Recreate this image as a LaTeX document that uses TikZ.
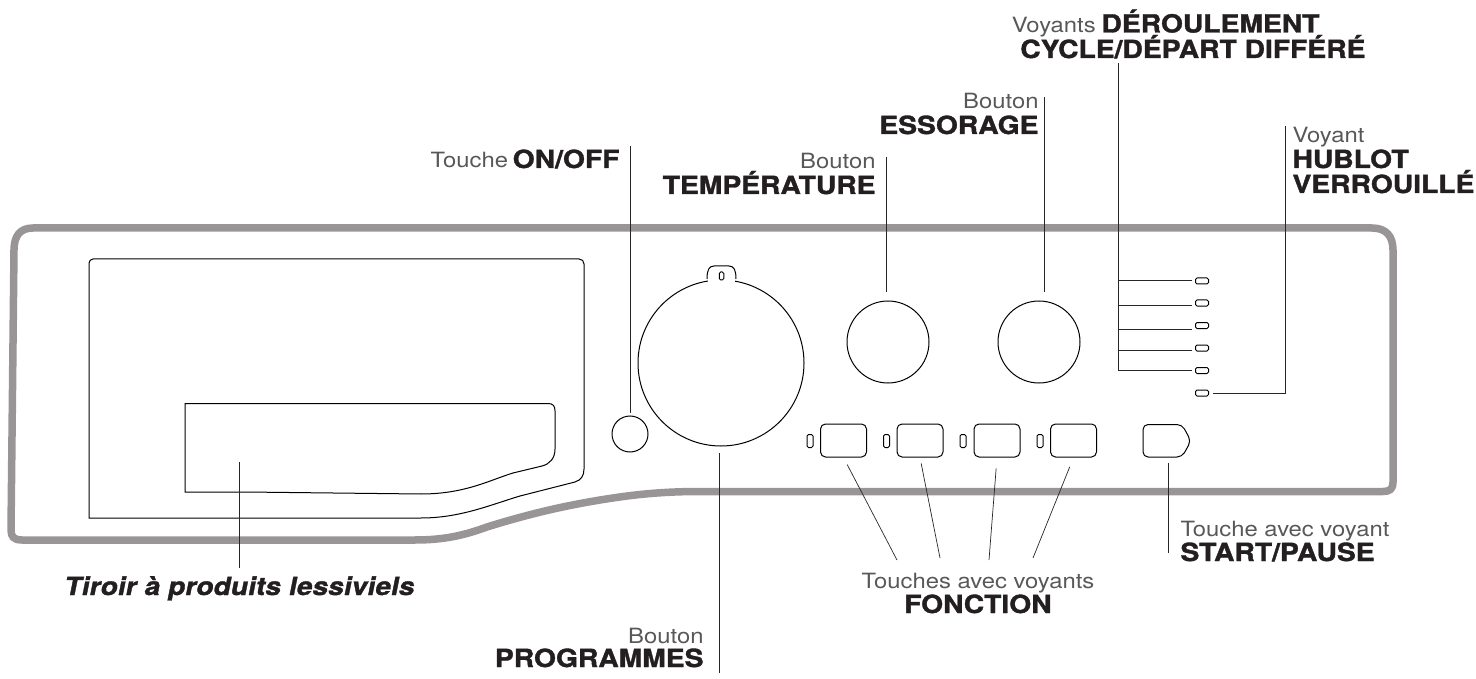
\documentclass[tikz,border=0pt]{standalone}
\usepackage{fontspec}
\setmainfont{TeX Gyre Heros}
\newfontfamily\thinfont[FakeStretch=1.135]{TeX Gyre Heros}
\newfontfamily\heavyfont[FakeBold=1.4,FakeStretch=1.13]{TeX Gyre Heros Bold}
\newfontfamily\heavyitfont[FakeBold=1.4,FakeSlant=0.2,FakeStretch=1.13]{TeX Gyre Heros Bold}
\definecolor{panelgray}{HTML}{999596}
\definecolor{inktext}{HTML}{231F20}
\definecolor{lighttext}{HTML}{5A5758}
\newcommand{\thick}[1]{{\heavyfont\fontsize{25}{25}\selectfont\color{inktext}#1}}
\newcommand{\thin}[1]{{\thinfont\fontsize{21}{21}\selectfont\color{lighttext}#1}}
\begin{document}
\begin{tikzpicture}[x=1pt,y=-1pt,
  line width=1pt,
  knob node/.style={circle,draw,inner sep=0pt},
  key node/.style={rectangle,draw,rounded corners=5pt,inner sep=0pt,minimum width=46pt,minimum height=33pt},
  lamp node/.style={rectangle,draw,rounded corners=1.5pt,inner sep=0pt,minimum width=6pt,minimum height=13pt},
  strip node/.style={rectangle,draw,rounded corners=1.5pt,inner sep=0pt,minimum width=13pt,minimum height=6pt},
  txt node/.style={inner sep=0pt,anchor=base west},
  txtr node/.style={inner sep=0pt,anchor=base east},
  txtc node/.style={inner sep=0pt,anchor=base},
  leader/.style={line width=0.7pt,draw=black!85}]

  \useasboundingbox (0,0) rectangle (1476,679);

  % panel outline
  \draw[panelgray,line width=7.5pt,line join=round]
    (33,228) -- (1372,228) .. controls (1386,228) and (1393,236) .. (1393,250)
    -- (1393,482) .. controls (1393,489) and (1390,491.5) .. (1383,491.5)
    -- (700,491.5) .. controls (655,491.5) and (625,496) .. (600,500)
    .. controls (570,505) and (535,512) .. (487,527)
    .. controls (465,535) and (445,540) .. (415,540)
    -- (22,540) .. controls (14,540) and (11,537) .. (11,530)
    -- (14,250) .. controls (14,236) and (20,228) .. (33,228) -- cycle;

  % drawer
  \draw (93,259) -- (579,259) .. controls (582,259) and (584,261) .. (584,264)
    -- (584,469) .. controls (584,476) and (581,480) .. (575,482)
    -- (520,496) .. controls (490,505) and (460,518) .. (421,518)
    -- (89,518) -- (89,263) .. controls (89,261) and (91,259) .. (93,259) -- cycle;
  \draw (185,403.5) -- (548,403.5) .. controls (553,403.5) and (555,406) .. (555,411)
    -- (555,449) .. controls (555,458) and (550,464) .. (542,466)
    -- (513,473) .. controls (490,480) and (465,494) .. (421,494)
    -- (245,492) -- (185,492) -- cycle;

  % knobs
  \node[knob node,minimum size=166pt] (prog) at (721,363) {};
  \node[knob node,minimum size=82pt] (temp) at (888,342) {};
  \node[knob node,minimum size=82pt] (spin) at (1039,342) {};
  \node[knob node,minimum size=36pt] (onoff) at (630,434) {};
  \fill[white] (708,277) rectangle (735,283);
  \draw (707,279) .. controls (707,270) and (709,266) .. (714,266) -- (729,266)
    .. controls (734,266) and (736,270) .. (736,279);
  \node[rectangle,draw,rounded corners=1.5pt,inner sep=0pt,minimum width=4.5pt,minimum height=8pt] (proglamp) at (721.5,276) {};

  % keys
  \node[key node] (key1) at (843.5,440.5) {};
  \node[key node] (key2) at (920,440.5) {};
  \node[key node] (key3) at (997,440.5) {};
  \node[key node] (key4) at (1073.5,440.5) {};
  \node[lamp node] (lamp1) at (810,441) {};
  \node[lamp node] (lamp2) at (886.5,441) {};
  \node[lamp node] (lamp3) at (963,441) {};
  \node[lamp node] (lamp4) at (1040,441) {};
  \node[inner sep=0pt,minimum width=48pt,minimum height=32.5pt] (start) at (1167,440.75) {};
  \draw[rounded corners=5pt] (1143,424.5) -- (1182,424.5) -- (1191,441) -- (1182,457) -- (1143,457) -- cycle;

  % strip lamps
  \node[strip node] (led1) at (1202,281) {};
  \node[strip node] (led2) at (1202,303) {};
  \node[strip node] (led3) at (1202,325.5) {};
  \node[strip node] (led4) at (1202,348) {};
  \node[strip node] (led5) at (1202,370.5) {};
  \node[strip node] (led6) at (1202,393) {};

  % labels
  \node[txtr node] (cycle1) at (1320,32.5) {\thin{Voyants}\hspace{3pt} \thick{DÉROULEMENT}};
  \node[txtr node] (cycle2) at (1366,58) {\thick{CYCLE/DÉPART DIFFÉRÉ}};
  \node[txt node] (door1) at (1292,143) {\thin{Voyant}};
  \node[txt node] (door2) at (1292,168) {\thick{HUBLOT}};
  \node[txt node] (door3) at (1292,193) {\thick{VERROUILLÉ}};
  \node[txtr node] (onofflabel) at (620,168) {\thin{Touche}\hspace{2pt} \thick{ON/OFF}};
  \node[txtr node] (temp1) at (876,169) {\thin{Bouton}};
  \node[txtr node] (temp2) at (876,194) {\thick{TEMPÉRATURE}};
  \node[txtr node] (spin1) at (1039,109) {\thin{Bouton}};
  \node[txtr node] (spin2) at (1039,134) {\thick{ESSORAGE}};
  \node[txtr node] (prog1) at (704,643) {\thin{Bouton}};
  \node[txtr node] (prog2) at (704,667) {\thick{PROGRAMMES}};
  \node[txt node] (tiroir) at (63,595) {{\heavyitfont\fontsize{25}{25}\selectfont\color{inktext}Tiroir à produits lessiviels}};
  \node[txtc node] (fn1) at (978,588) {\thin{Touches avec voyants}};
  \node[txtc node] (fn2) at (978,613) {\thick{FONCTION}};
  \node[txt node] (st1) at (1180,536) {\thin{Touche avec voyant}};
  \node[txt node] (st2) at (1180,561) {\thick{START/PAUSE}};

  % free ends of the leaders
  \coordinate (onofftop) at (630.5,146);
  \coordinate (temptop) at (886,157);
  \coordinate (spintop) at (1044,97);
  \coordinate (trunktop) at (1118,63);
  \coordinate (doortop) at (1285,126);
  \coordinate (progend) at (719,673);
  \coordinate (tiroirtop) at (239,462);
  \coordinate (tiroirend) at (239,568);
  \coordinate (fnend1) at (897,560);
  \coordinate (fnend2) at (940,558);
  \coordinate (fnend3) at (989,560);
  \coordinate (fnend4) at (1033,558);
  \coordinate (stend) at (1168,553);
  \coordinate (j1) at (1118,280);
  \coordinate (j2) at (1118,305.5);
  \coordinate (j3) at (1118,329);
  \coordinate (j4) at (1118,350);

  \path[leader]
   (onofftop) edge[shorten >=3pt] (onofftop |- onoff.north)
   (temptop) edge[shorten >=8pt] (temptop |- temp.north)
   (spintop) edge[shorten >=8pt] (spintop |- spin.north)
   (progend) edge[shorten >=6pt] (progend |- prog.south)
   (tiroirtop) edge (tiroirend)
   (key1.south) edge[shorten <=8pt] (fnend1)
   (key2.south) edge[shorten <=6pt] (fnend2)
   (key3.south) edge[shorten <=11pt] (fnend3)
   (key4.south) edge[shorten <=10pt] (fnend4)
   (stend) edge[shorten >=5pt] (stend |- start.south)
   (j1) edge[shorten >=3.5pt] (j1 -| led1.west)
   (j2) edge[shorten >=3.5pt] (j2 -| led2.west)
   (j3) edge[shorten >=3.5pt] (j3 -| led3.west)
   (j4) edge[shorten >=3.5pt] (j4 -| led4.west);
  \draw[leader,shorten >=3.5pt] (trunktop) |- (led5.west);
  \draw[leader,shorten >=3.5pt] (doortop) |- (led6.east);
\end{tikzpicture}
\end{document}
